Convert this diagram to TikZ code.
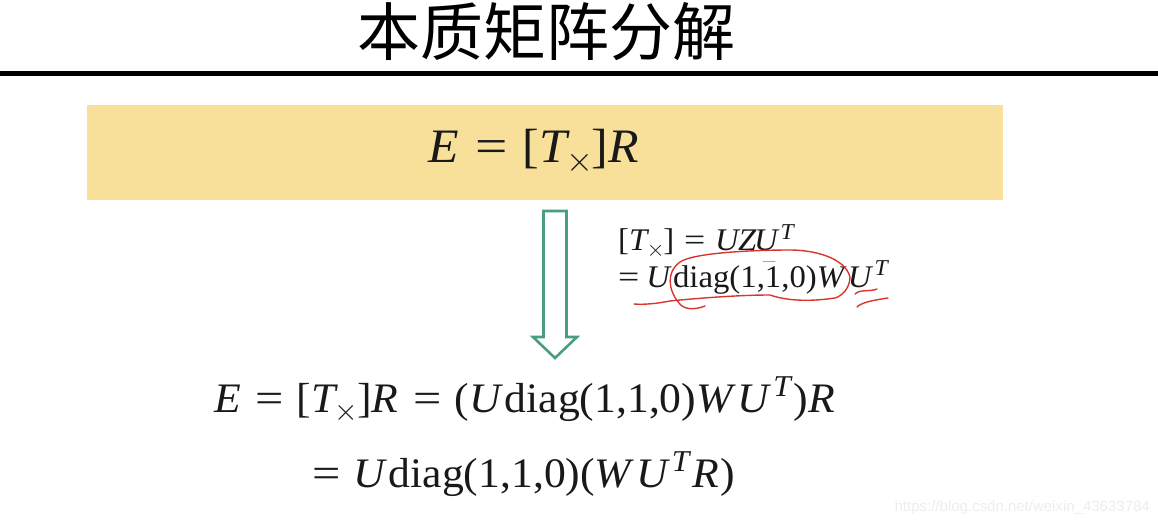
\RequirePackage{fix-cm}
\documentclass[tikz,border=0pt]{standalone}
\usepackage{graphicx}
\usepackage{fontspec}
\setmainfont{Liberation Serif}[FakeStretch=1.04]
\newfontfamily\cjk{Noto Sans CJK SC}
\newfontfamily\markfont{Liberation Sans}
\newcommand{\fsz}[1]{\fontsize{#1}{#1}\selectfont}
\newcommand{\mv}[1]{\textit{#1}\kern.04em}
\newcommand{\eqsign}{\scalebox{1.15}[1]{=}}
\newcommand{\eqq}{\kern.31em\eqsign\kern.31em}
\newcommand{\Tx}{[\mv{T}\kern-.12em\raisebox{-.19em}{\scalebox{.72}{$\times$}}\kern-.03em]}
\newcommand{\UT}{\mv{U}\raisebox{.38em}{\scalebox{.72}{\textit{T}}}\kern.03em}
\newcommand{\dg}{\mv{U}diag(1,1,0)}
\definecolor{boxgold}{HTML}{F8E09A}
\definecolor{arrowgreen}{HTML}{4A9D85}
\definecolor{penred}{HTML}{D8352F}
\tikzset{
	eqn/.style={anchor=base west, inner sep=0pt, text=black!90},
	pen/.style={penred, line width=1.4pt, line cap=round},
}

\begin{document}
\begin{tikzpicture}[x=1pt, y=-1pt]
	\useasboundingbox (0,0) rectangle (1158,526);

	% Title
	\node[anchor=center, inner sep=0pt] (title) at (546,32) {\cjk\fsz{63}本质矩阵分解};
	\fill[black] (0,71) rectangle (1158,76);

	% Banner
	\fill[boxgold] (87,105) rectangle (1003,200);
	\node[eqn] (eqtop) at (428,162.5) {\fsz{48}\mv{E}\eqq\Tx\mv{R}};

	% Down arrow
	\draw[arrowgreen, line width=2.6pt, fill=white, line join=miter]
		(543.5,211) -- (566.5,211) -- (566.5,337) -- (577,337) -- (555,358) -- (533,337) -- (543.5,337) -- cycle;

	% Side note
	\node[eqn] (note1) at (618,251) {\fsz{31.5}\Tx\eqq\mv{U}\kern-.12em\mv{Z}\kern-.12em\UT};
	\node[eqn] (note2) at (618,287.5) {\fsz{31.5}\eqsign\kern.22em\dg\mv{W}\UT};

	% Handwriting
	\draw[pen] (705,306) .. controls (695,310) and (684,310) .. (679,303)
		.. controls (668,290) and (666,272) .. (680,262)
		.. controls (695,252) and (760,250) .. (790,250)
		.. controls (815,250) and (845,258) .. (850,277)
		.. controls (850,288) and (842,296) .. (835,298)
		.. controls (815,301) and (790,302) .. (770,295)
		.. controls (740,295) and (700,298) .. (670,301)
		.. controls (660,303) and (645,305) .. (634,304);
	\draw[pen, line width=.7pt, penred!60] (763,261) -- (775,261);
	\draw[pen] (855,294) .. controls (860,289) and (870,292) .. (877,289);
	\draw[pen] (857,307) .. controls (862,302) and (875,300) .. (888,298);

	% Result
	\node[eqn] (eqone) at (214,412.5) {\fsz{42}\mv{E}\eqq\Tx\mv{R}\eqq(\dg\mv{W}\UT)\mv{R}};
	\node[eqn] (eqtwo) at (312,487.5) {\fsz{42}\eqsign\kern.3em\dg(\mv{W}\UT\mv{R})};

	% Watermark
	\node[anchor=east, inner sep=0pt, text=black!7] (mark) at (1150,508) {\markfont\fsz{15}https://blog.csdn.net/weixin\_43633784};
\end{tikzpicture}
\end{document}
